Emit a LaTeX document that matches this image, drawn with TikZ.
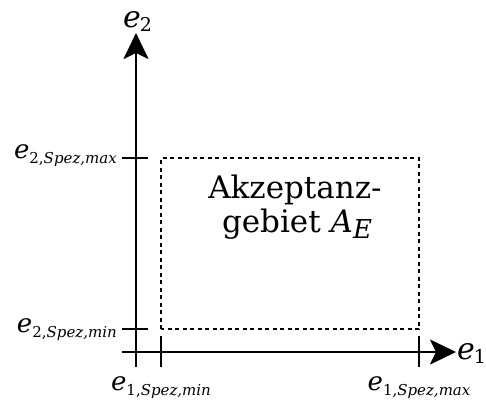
\documentclass[tikz,border=0pt]{standalone}
\usepackage{fontspec}
\setmainfont{DejaVu Serif}
\usetikzlibrary{arrows.meta}
\newcommand\lbsub[2]{\textit{e}\raisebox{-0.2em}{\fontsize{15}{15}\selectfont #1,\itshape #2}}
\begin{document}
\begin{tikzpicture}[x=1pt,y=-1pt,
  axis/.style={line width=2.6pt,-{Stealth[length=26pt,width=25pt,inset=6pt]}},
  tickmark/.style={line width=2.6pt},
  region/.style={line width=1.8pt,dash pattern=on 4pt off 3.5pt},
  lbl/.style={inner sep=0pt,font=\fontsize{26}{26}\selectfont},
  axlbl/.style={inner sep=0pt,font=\fontsize{30}{30}\selectfont},
  bigtxt/.style={inner sep=0pt,align=center,font=\fontsize{31}{34}\selectfont}]
\useasboundingbox (0,0) rectangle (486,399);
% axes
\coordinate (xs) at (122,352);
\coordinate (xe) at (456,352);
\coordinate (ys) at (136,367);
\coordinate (ye) at (136,33);
\draw[axis] (xs) -- (xe);
\draw[axis] (ys) -- (ye);
% ticks
\coordinate (t1a) at (161,336); \coordinate (t1b) at (161,367);
\coordinate (t2a) at (419,336); \coordinate (t2b) at (419,367);
\coordinate (t3a) at (122,158); \coordinate (t3b) at (148,158);
\coordinate (t4a) at (122,329); \coordinate (t4b) at (148,329);
\draw[tickmark] (t1a) -- (t1b);
\draw[tickmark] (t2a) -- (t2b);
\draw[tickmark] (t3a) -- (t3b);
\draw[tickmark] (t4a) -- (t4b);
% acceptance region
\coordinate (rA) at (161,329);
\coordinate (rB) at (419,158);
\draw[region] (rA) rectangle (rB);
% labels
\node[lbl,anchor=base east] (l2max) at (117,158) {\lbsub{2}{Spez,max}};
\node[lbl,anchor=base east] (l2min) at (117,332) {\lbsub{2}{Spez,min}};
\node[lbl,anchor=base] (l1min) at (161,390) {\lbsub{1}{Spez,min}};
\node[lbl,anchor=base] (l1max) at (419,390) {\lbsub{1}{Spez,max}};
\node[axlbl,anchor=base west] (e1) at (457,359) {\textit{e}\kern-1pt\raisebox{-0.16em}{\fontsize{19}{19}\selectfont 1}};
\node[axlbl,anchor=base west] (e2) at (123,27) {\textit{e}\kern-1pt\raisebox{-0.16em}{\fontsize{19}{19}\selectfont 2}};
\node[bigtxt,anchor=base] (akz) at (295,198) {Akzeptanz-};
\node[bigtxt,anchor=base] (geb) at (297,232) {gebiet \textit{A}\raisebox{-0.2em}{\fontsize{26}{26}\selectfont\itshape E}};
\end{tikzpicture}
\end{document}
